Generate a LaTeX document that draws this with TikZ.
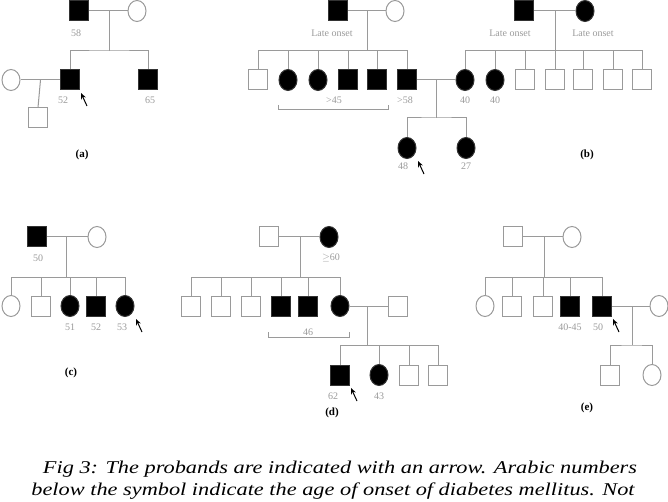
\documentclass[tikz,border=0pt]{standalone}
\usepackage{fontspec}
\setmainfont{Liberation Serif}
\usetikzlibrary{arrows.meta, positioning, shapes.geometric, calc}
\definecolor{pedgray}{HTML}{9A9A9A}
\begin{document}
\begin{tikzpicture}[x=1pt, y=-1pt,
    male/.style={rectangle, draw=pedgray, line width=1pt, minimum width=19pt, minimum height=20pt, inner sep=0pt},
    female/.style={ellipse, draw=pedgray, line width=1pt, minimum width=18pt, minimum height=21pt, inner sep=0pt},
    aff/.style={fill=black, draw=black!80},
    age/.style={font=\fontsize{10}{10}\selectfont, text=pedgray},
    tag/.style={font=\fontsize{11}{11}\selectfont\bfseries},
    link/.style={draw=pedgray, line width=1pt},
    proband/.style={-{Stealth[length=6pt,width=5pt]}, line width=1pt}]
  \useasboundingbox (0,0) rectangle (668,502);
  % ---------- (a)
  \node[male, aff] (aF) at (79,11) {};
  \node[female] (aM) at (137,11) {};
  \node[male, aff] (aC1) at (70,80) {};
  \node[male, aff] (aC2) at (148,80) {};
  \node[female] (aW) at (11,80) {};
  \node[male] (aG1) at (38,118) {};
  \draw[link] (aF) -- (aM);
  \draw[link] (aW) -- (aC1);
  \coordinate (aS) at ($(aF)!0.52!(aM)$);
  \coordinate (aS2) at ($(aW)!0.5!(aC1)$);
  \draw[link] (aS) -- (aS |- 0,51);
  \draw[link] (aC1.north) |- (0,51 -| aS) -| (aC2.north);
  \draw[link] (aS2) -- (aG1.north);
  \node[age] (aL0) at (76,33) {58};
  \node[age] (aL1) at (63,100) {52};
  \node[age] (aL2) at (150,100) {65};
  \draw[proband] ($(aC1)+(17,26)$) coordinate (aP) -- ($(aC1)+(11,13)$);
  \node[tag] (aT) at (82,155) {(a)};
  % ---------- (b)
  \node[male, aff] (bF) at (338,11) {};
  \node[female] (bM) at (395,11) {};
  \node[male, aff] (bF2) at (524,11) {};
  \node[female, aff] (bM2) at (585,11) {};
  \node[age] (bL0) at (332,33) {Late onset};
  \node[age] (bL0b) at (510,33) {Late onset};
  \node[age] (bL0c) at (593,33) {Late onset};
  \draw[link] (bF) -- (bM);
  \draw[link] (bF2) -- (bM2);
  \node[male] (bC1) at (258,80) {};
  \node[female, aff] (bC2) at (288,80) {};
  \node[female, aff] (bC3) at (318,80) {};
  \node[male, aff] (bC4) at (348,80) {};
  \node[male, aff] (bC5) at (377,80) {};
  \node[male, aff] (bC6) at (407,80) {};
  \node[female, aff] (bD1) at (465,80) {};
  \node[female, aff] (bD2) at (495,80) {};
  \foreach \i/\x in {3/525, 4/555, 5/583, 6/613, 7/642}
    \node[male] (bD\i) at (\x,80) {};
  \coordinate (bS) at (367,11);
  \coordinate (bS2) at (555,11);
  \draw[link] (bS) -- (bS |- 0,51);
  \draw[link] (bS2) -- (bS2 |- 0,51);
  \draw[link] (bC1.north) |- (0,51 -| bC6) -- (bC6.north);
  \foreach \i in {2,...,5} \draw[link] (bC\i.north) -- (bC\i.north |- 0,51);
  \draw[link] (bD1.north) |- (0,51 -| bD7) -- (bD7.north);
  \foreach \i in {2,...,6} \draw[link] (bD\i.north) -- (bD\i.north |- 0,51);
  \draw[link] (bC6) -- (bD1);
  \draw[link] (278,105) |- (388,110) -- (388,105);
  \node[age] (bL1) at (334,100) {>45};
  \node[age] (bL2) at (405,100) {>58};
  \node[age] (bL3) at (465,100) {40};
  \node[age] (bL4) at (495,100) {40};
  \node[female, aff] (bG1) at (407,148) {};
  \node[female, aff] (bG2) at (466,148) {};
  \coordinate (bS3) at (436,80);
  \draw[link] (bS3) -- (bS3 |- 0,118);
  \draw[link] (bG1.north) |- (0,118 -| bS3) -| (bG2.north);
  \node[age] (bL5) at (403,166) {48};
  \node[age] (bL6) at (466,166) {27};
  \draw[proband] ($(bG1)+(17,26)$) -- ($(bG1)+(11,13)$);
  \node[tag] (bT) at (587,155) {(b)};
  % ---------- (c)
  \node[male, aff] (cF) at (37,237) {};
  \node[female] (cM) at (97,237) {};
  \draw[link] (cF) -- (cM);
  \coordinate (cS) at (66,237);
  \draw[link] (cS) -- (cS |- 0,277);
  \node[female] (cC1) at (11,306) {};
  \node[male] (cC2) at (41,306) {};
  \node[female, aff] (cC3) at (70,306) {};
  \node[male, aff] (cC4) at (96,306) {};
  \node[female, aff] (cC5) at (125,306) {};
  \draw[link] (cC1.north) |- (0,277 -| cC5) -- (cC5.north);
  \foreach \i in {2,...,4} \draw[link] (cC\i.north) -- (cC\i.north |- 0,277);
  \node[age] (cL0) at (38,258) {50};
  \node[age] (cL1) at (70,327) {51};
  \node[age] (cL2) at (96,327) {52};
  \node[age] (cL3) at (122,327) {53};
  \draw[proband] ($(cC5)+(17,26)$) -- ($(cC5)+(11,13)$);
  \node[tag] (cT) at (71,373) {(c)};
  % ---------- (d)
  \node[male] (dF) at (269,237) {};
  \node[female, aff] (dM) at (329,237) {};
  \draw[link] (dF) -- (dM);
  \coordinate (dS) at (300,237);
  \draw[link] (dS) -- (dS |- 0,277);
  \foreach \i/\x in {1/191, 2/221, 3/251}
    \node[male] (dC\i) at (\x,306) {};
  \node[male, aff] (dC4) at (281,306) {};
  \node[male, aff] (dC5) at (308,306) {};
  \node[female, aff] (dC6) at (340,306) {};
  \draw[link] (dC1.north) |- (0,277 -| dC6) -- (dC6.north);
  \foreach \i in {2,...,5} \draw[link] (dC\i.north) -- (dC\i.north |- 0,277);
  \node[male] (dW) at (398,306) {};
  \draw[link] (dC6) -- (dW);
  \draw[link] (268,332) |- (349,337) -- (349,332);
  \node[age] (dL0) at (331,258) {$\geq$60};
  \node[age] (dL1) at (308,332) {46};
  \node[male, aff] (dG1) at (340,375) {};
  \node[female, aff] (dG2) at (379,375) {};
  \node[male] (dG3) at (409,375) {};
  \node[male] (dG4) at (438,375) {};
  \coordinate (dS2) at (367,306);
  \draw[link] (dS2) -- (dS2 |- 0,345);
  \draw[link] (dG1.north) |- (0,345 -| dG4) -- (dG4.north);
  \foreach \i in {2,3} \draw[link] (dG\i.north) -- (dG\i.north |- 0,345);
  \node[age] (dL2) at (333,396) {62};
  \node[age] (dL3) at (379,396) {43};
  \draw[proband] ($(dG1)+(17,26)$) -- ($(dG1)+(11,13)$);
  \node[tag] (dT) at (332,413) {(d)};
  % ---------- (e)
  \node[male] (eF) at (513,237) {};
  \node[female] (eM) at (572,237) {};
  \draw[link] (eF) -- (eM);
  \coordinate (eS) at (544,237);
  \draw[link] (eS) -- (eS |- 0,277);
  \node[female] (eC1) at (485,306) {};
  \node[male] (eC2) at (512,306) {};
  \node[male] (eC3) at (543,306) {};
  \node[male, aff] (eC4) at (570,306) {};
  \node[male, aff] (eC5) at (602,306) {};
  \draw[link] (eC1.north) |- (0,277 -| eC5) -- (eC5.north);
  \foreach \i in {2,...,4} \draw[link] (eC\i.north) -- (eC\i.north |- 0,277);
  \node[female] (eW) at (659,306) {};
  \draw[link] (eC5) -- (eW);
  \node[age] (eL1) at (570,327) {40-45};
  \node[age] (eL2) at (598,327) {50};
  \draw[proband] ($(eC5)+(17,26)$) -- ($(eC5)+(11,13)$);
  \node[male] (eG1) at (610,375) {};
  \node[female] (eG2) at (652,375) {};
  \coordinate (eS2) at (632,306);
  \draw[link] (eS2) -- (eS2 |- 0,345);
  \draw[link] (eG1.north) |- (0,345 -| eS2) -| (eG2.north);
  \node[tag] (eT) at (587,408) {(e)};
  % ---------- caption
  \node[font=\fontsize{18}{18}\selectfont\itshape, xscale=1.24] (cap1) at (340,469)
    {Fig 3: The probands are indicated with an arrow. Arabic numbers};
  \node[font=\fontsize{18}{18}\selectfont\itshape, xscale=1.24] (cap2) at (333,491)
    {below the symbol indicate the age of onset of diabetes mellitus. Not};
\end{tikzpicture}
\end{document}
